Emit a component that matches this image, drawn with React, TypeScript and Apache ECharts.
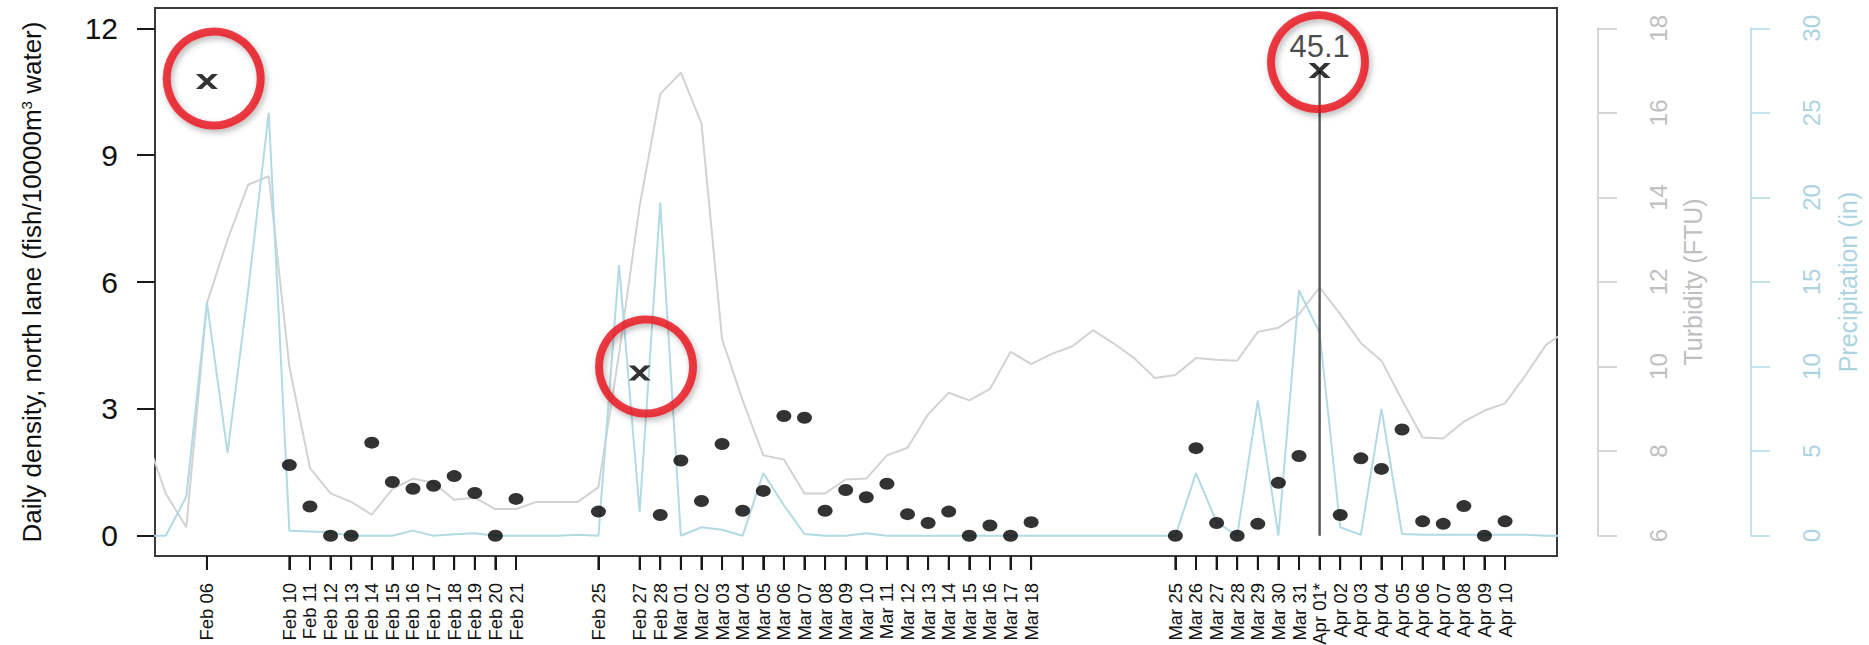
import React, { useEffect, useRef } from "react";
import * as echarts from "echarts";

// ---------- data ----------
const tickLabels = [
  "Feb 06", "Feb 10", "Feb 11", "Feb 12", "Feb 13", "Feb 14", "Feb 15", "Feb 16", "Feb 17",
  "Feb 18", "Feb 19", "Feb 20", "Feb 21", "Feb 25", "Feb 27", "Feb 28", "Mar 01", "Mar 02",
  "Mar 03", "Mar 04", "Mar 05", "Mar 06", "Mar 07", "Mar 08", "Mar 09", "Mar 10", "Mar 11",
  "Mar 12", "Mar 13", "Mar 14", "Mar 15", "Mar 16", "Mar 17", "Mar 18", "Mar 25", "Mar 26",
  "Mar 27", "Mar 28", "Mar 29", "Mar 30", "Mar 31", "Apr 01*", "Apr 02", "Apr 03", "Apr 04",
  "Apr 05", "Apr 06", "Apr 07", "Apr 08", "Apr 09", "Apr 10",
];

const dotDates = [
  "Feb 10", "Feb 11", "Feb 12", "Feb 13", "Feb 14", "Feb 15", "Feb 16", "Feb 17", "Feb 18",
  "Feb 19", "Feb 20", "Feb 21", "Feb 25", "Feb 28", "Mar 01", "Mar 02", "Mar 03", "Mar 04",
  "Mar 05", "Mar 06", "Mar 07", "Mar 08", "Mar 09", "Mar 10", "Mar 11", "Mar 12", "Mar 13",
  "Mar 14", "Mar 15", "Mar 16", "Mar 17", "Mar 18", "Mar 25", "Mar 26", "Mar 27", "Mar 28",
  "Mar 29", "Mar 30", "Mar 31", "Apr 02", "Apr 03", "Apr 04", "Apr 05", "Apr 06", "Apr 07",
  "Apr 08", "Apr 09", "Apr 10",
];
const dotValues = [
  1.67, 0.69, 0, 0, 2.2, 1.27, 1.11, 1.18, 1.41,
  1.01, 0, 0.87, 0.57, 0.49, 1.78, 0.82, 2.17, 0.59,
  1.06, 2.83, 2.79, 0.59, 1.08, 0.91, 1.23, 0.51, 0.3,
  0.57, 0, 0.24, 0, 0.32, 0, 2.07, 0.3, 0,
  0.28, 1.25, 1.885, 0.49, 1.83, 1.58, 2.51, 0.34, 0.28,
  0.7, 0, 0.34,
];

// crosses (pch 4); the Apr 01 value (45.1) is off-scale and drawn at the top
const crossDates = ["Feb 06", "Feb 27", "Apr 01*"];
const crossPlotValues = [10.74, 3.85, 11.0];
const crossLabels = ["", "", "45.1"];

// red highlight circles (annotation) centres, in day / density units
const highlightDays = [6.33, 27.31, 59.92];
const highlightValues = [10.81, 4.0, 11.2];

// daily environmental series, consecutive days starting Feb 03
const envStart = "Feb 03";
const turbidity = [
  8.4, 7.0, 6.2, 11.5, 13.0, 14.3, 14.5, 10.0, 7.6, 7.0, 6.8, 6.5, 7.1, 7.35, 7.25, 6.85,
  6.9, 6.63, 6.63, 6.8, 6.8, 6.8, 7.15, 10.3, 13.8, 16.45,
  16.95, 15.75, 10.65, 9.2, 7.9, 7.8, 7.0, 7.0, 7.33, 7.35, 7.9, 8.08, 8.87, 9.38, 9.2,
  9.47, 10.35, 10.06, 10.3, 10.48, 10.86, 10.55, 10.2, 9.73, 9.8, 10.2, 10.16, 10.14,
  10.82, 10.92, 11.24,
  11.87, 11.24, 10.56, 10.14, 9.21, 8.32, 8.3, 8.7, 8.96, 9.13, 9.8, 10.52, 10.85,
];
const precipitation = [
  0, 0, 2.3, 13.8, 4.9, 14.5, 25.0, 0.3, 0.25, 0.2, 0, 0, 0, 0.3, 0, 0.08, 0.15, 0, 0, 0,
  0, 0.05, 0, 16.0, 1.4, 19.7,
  0, 0.5, 0.35, 0, 3.7, 1.8, 0.1, 0, 0, 0.15, 0, 0, 0, 0, 0, 0, 0, 0, 0, 0, 0, 0, 0, 0,
  0, 3.7, 0.8, 0, 8.0, 0, 14.5,
  12.0, 0.5, 0.05, 7.5, 0.1, 0.05, 0.05, 0.05, 0.05, 0.05, 0.05, 0, 0,
];

const leftTicks = { min: 0, max: 12, step: 3 };
const turbTicks = { min: 6, max: 18, step: 2 };
const precipTicks = { min: 0, max: 30, step: 5 };

// ---------- helpers ----------
const monthOffset: Record<string, number> = { Feb: 0, Mar: 28, Apr: 59 };
function dayNum(label: string): number {
  const [m, d] = label.replace("*", "").split(" ");
  return monthOffset[m] + parseInt(d, 10);
}
const tickDays = tickLabels.map(dayNum);
const labelForDay = (v: number) => {
  const i = tickDays.findIndex((d) => Math.abs(d - v) < 1e-6);
  return i >= 0 ? tickLabels[i] : "";
};

const firstDay = dayNum(tickLabels[0]);
const lastDay = dayNum(tickLabels[tickLabels.length - 1]);
const pad = (lastDay - firstDay) * 0.04;
const xMin = firstDay - pad;
const xMax = lastDay + pad;
const yPad = (leftTicks.max - leftTicks.min) * 0.04;
const yMin = leftTicks.min - yPad;
const ratioT = (turbTicks.max - turbTicks.min) / (leftTicks.max - leftTicks.min);
const ratioP = (precipTicks.max - precipTicks.min) / (leftTicks.max - leftTicks.min);

const envStartDay = dayNum(envStart);
const turbData = turbidity.map((v, i) => [envStartDay + i, v]);
const precipData = precipitation.map((v, i) => [envStartDay + i, v]);
const dotData = dotDates.map((d, i) => [dayNum(d), dotValues[i]]);
const crossData = crossDates.map((d, i) => [dayNum(d), crossPlotValues[i]]);
const highlightData = highlightDays.map((d, i) => [d, highlightValues[i]]);
const tickMarkData = tickDays.map((d) => [d, yMin]);
const outlierDay = dayNum(crossDates[2]);
const stemData = [
  [outlierDay, 0],
  [outlierDay, crossPlotValues[2]],
];

const FONT = "'Liberation Sans', Arial, Helvetica, sans-serif";
const CROSS =
  "path://M0,0L5.5,0L20,14L14.5,14ZM14.5,0L20,0L5.5,14L0,14Z";

const GRID_LEFT = 155;
const GRID_RIGHT = 312;
const BOX_TOP = 8;
const BOX_H = 548;
const TICK_LEN = 14;

const option: any = {
  animation: false,
  backgroundColor: "#ffffff",
  textStyle: { fontFamily: FONT },
  grid: [
    {
      left: GRID_LEFT,
      right: GRID_RIGHT,
      top: BOX_TOP,
      height: BOX_H,
      show: true,
      borderColor: "#3a3a3a",
      borderWidth: 2,
      backgroundColor: "transparent",
      containLabel: false,
      outerBoundsMode: "none",
    },
    {
      left: GRID_LEFT,
      right: GRID_RIGHT,
      top: 28.3,
      height: 507.4,
      show: false,
      containLabel: false,
      outerBoundsMode: "none",
    },
    {
      left: GRID_LEFT,
      right: GRID_RIGHT,
      top: BOX_TOP,
      height: BOX_H,
      show: false,
      containLabel: false,
      outerBoundsMode: "none",
    },
  ],
  xAxis: [
    { type: "value", gridIndex: 0, min: xMin, max: xMax, show: false, axisLine: { onZero: false } },
    { type: "value", gridIndex: 1, min: 0, max: 1, show: false, axisLine: { onZero: false } },
    {
      type: "value",
      gridIndex: 2,
      position: "bottom",
      min: xMin,
      max: xMax,
      axisLine: { show: true, onZero: false, lineStyle: { color: "#3a3a3a", width: 2 } },
      splitLine: { show: false },
      axisTick: {
        show: true,
        customValues: tickDays,
        length: TICK_LEN,
        lineStyle: { color: "#1a1a1a", width: 2 },
      },
      axisLabel: {
        show: true,
        customValues: tickDays,
        rotate: 90,
        margin: 27,
        fontSize: 18.5,
        color: "#111",
        fontFamily: FONT,
        hideOverlap: false,
        showMinLabel: true,
        showMaxLabel: true,
        formatter: (v: number) => labelForDay(v),
      },
    },
  ],
  yAxis: [
    { type: "value", gridIndex: 0, min: yMin, max: leftTicks.max + yPad, show: false, splitLine: { show: false } },
    {
      type: "value",
      gridIndex: 0,
      min: turbTicks.min - yPad * ratioT,
      max: turbTicks.max + yPad * ratioT,
      show: false,
      splitLine: { show: false },
    },
    {
      type: "value",
      gridIndex: 0,
      min: precipTicks.min - yPad * ratioP,
      max: precipTicks.max + yPad * ratioP,
      show: false,
      splitLine: { show: false },
    },
    {
      type: "value",
      gridIndex: 1,
      position: "left",
      min: leftTicks.min,
      max: leftTicks.max,
      interval: leftTicks.step,
      axisLine: { show: false, onZero: false },
      splitLine: { show: false },
      axisTick: { show: true, length: 18, lineStyle: { color: "#1a1a1a", width: 2 } },
      axisLabel: { margin: 37, fontSize: 30, color: "#111", fontFamily: FONT },
      name: "Daily density, north lane (fish/10000m{sup|3} water)",
      nameLocation: "middle",
      nameGap: 110,
      nameTextStyle: {
        fontSize: 26,
        color: "#111",
        fontFamily: FONT,
        rich: {
          sup: { fontSize: 15, color: "#111", fontFamily: FONT, verticalAlign: "top" },
        },
      },
    },
    {
      type: "value",
      gridIndex: 1,
      position: "right",
      offset: 41,
      min: turbTicks.min,
      max: turbTicks.max,
      interval: turbTicks.step,
      splitLine: { show: false },
      axisLine: { show: true, onZero: false, lineStyle: { color: "#c8c8c8", width: 1.5 } },
      axisTick: { show: true, length: 19, lineStyle: { color: "#c8c8c8", width: 1.5 } },
      axisLabel: { rotate: 90, margin: 48, fontSize: 24, color: "#bfbfbf", fontFamily: FONT },
      name: "Turbidity (FTU)",
      nameLocation: "middle",
      nameGap: 82,
      nameTextStyle: { fontSize: 25, color: "#bfbfbf", fontFamily: FONT },
    },
    {
      type: "value",
      gridIndex: 1,
      position: "right",
      offset: 194,
      min: precipTicks.min,
      max: precipTicks.max,
      interval: precipTicks.step,
      splitLine: { show: false },
      axisLine: { show: true, onZero: false, lineStyle: { color: "#b3d8e3", width: 1.5 } },
      axisTick: { show: true, length: 19, lineStyle: { color: "#b3d8e3", width: 1.5 } },
      axisLabel: { rotate: 90, margin: 48, fontSize: 24, color: "#acd4e0", fontFamily: FONT },
      name: "Precipitation (in)",
      nameLocation: "middle",
      nameGap: 84,
      nameTextStyle: { fontSize: 25, color: "#acd4e0", fontFamily: FONT },
    },
    { type: "value", gridIndex: 2, min: 1, max: 2, show: false, splitLine: { show: false } },
  ],
  series: [
    {
      name: "Turbidity",
      type: "line",
      xAxisIndex: 0,
      yAxisIndex: 1,
      data: turbData,
      symbol: "none",
      clip: true,
      silent: true,
      lineStyle: { color: "#d2d2d2", width: 2 },
      z: 1,
    },
    {
      name: "Precipitation",
      type: "line",
      xAxisIndex: 0,
      yAxisIndex: 2,
      data: precipData,
      symbol: "none",
      clip: true,
      silent: true,
      lineStyle: { color: "#b2dae4", width: 2 },
      z: 1,
    },
    {
      name: "Date ticks",
      type: "custom",
      xAxisIndex: 0,
      yAxisIndex: 0,
      data: tickMarkData,
      encode: { x: 0, y: 1 },
      clip: false,
      silent: true,
      z: 2,
      renderItem: (_params: any, api: any) => {
        const p = api.coord([api.value(0), api.value(1)]);
        return {
          type: "line",
          shape: { x1: p[0], y1: p[1], x2: p[0], y2: p[1] + TICK_LEN },
          style: { stroke: "#1a1a1a", lineWidth: 2 },
        };
      },
    },
    {
      name: "Outlier stem",
      type: "line",
      xAxisIndex: 0,
      yAxisIndex: 0,
      data: stemData,
      symbol: "none",
      silent: true,
      lineStyle: { color: "#555555", width: 2.4 },
      z: 3,
    },
    {
      name: "Density",
      type: "scatter",
      xAxisIndex: 0,
      yAxisIndex: 0,
      data: dotData,
      symbol: "circle",
      symbolSize: [15, 12],
      silent: true,
      itemStyle: { color: "#000000" },
      z: 4,
    },
    {
      name: "High density",
      type: "scatter",
      xAxisIndex: 0,
      yAxisIndex: 0,
      data: crossData,
      symbol: CROSS,
      symbolSize: [22, 15],
      symbolKeepAspect: false,
      silent: true,
      itemStyle: { color: "#000000" },
      label: {
        show: true,
        position: "top",
        distance: 1,
        formatter: (p: any) => crossLabels[p.dataIndex],
        fontSize: 31,
        color: "#1a1a1a",
        fontFamily: FONT,
      },
      z: 5,
    },
    {
      name: "Highlight",
      type: "scatter",
      xAxisIndex: 0,
      yAxisIndex: 0,
      data: highlightData,
      symbol: "circle",
      symbolSize: [94, 94],
      clip: false,
      silent: true,
      itemStyle: {
        color: "rgba(0,0,0,0)",
        borderColor: "#e8101a",
        borderWidth: 8,
        shadowBlur: 6,
        shadowColor: "rgba(0,0,0,0.35)",
        shadowOffsetX: 2,
        shadowOffsetY: 3,
      },
      z: 6,
    },
  ],
};

export default function App() {
  const ref = useRef<HTMLDivElement>(null);
  useEffect(() => {
    if (!ref.current) return;
    const chart = echarts.init(ref.current, undefined, { renderer: "svg" });
    chart.setOption(option);
    return () => chart.dispose();
  }, []);
  return (
    <div
      ref={ref}
      style={{ position: "fixed", left: 0, top: 0, width: 1869, height: 645, background: "#fff" }}
    />
  );
}
